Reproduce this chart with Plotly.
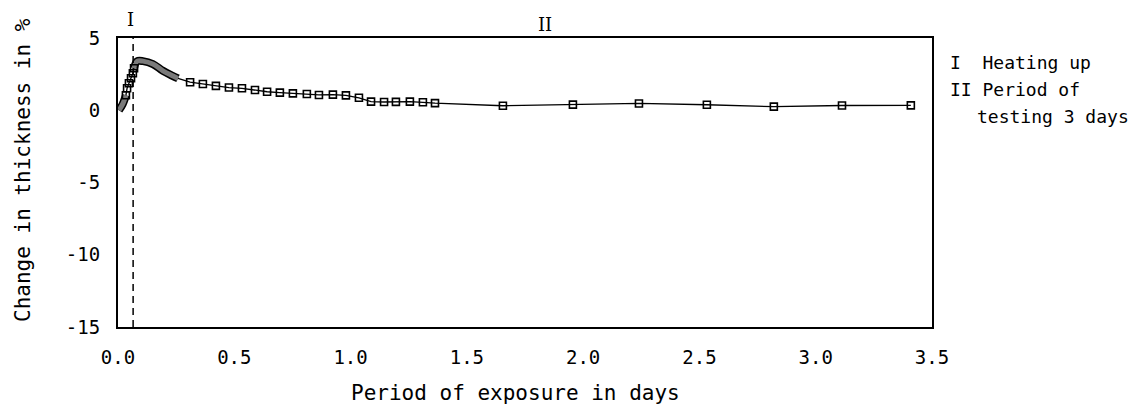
import plotly.graph_objects as go

# ---- data ----
days = [0.004, 0.020, 0.034, 0.039, 0.047, 0.056, 0.064, 0.069, 0.082, 0.107,
        0.150, 0.193, 0.232, 0.258, 0.310, 0.365, 0.421, 0.477, 0.533, 0.589,
        0.641, 0.696, 0.752, 0.812, 0.864, 0.924, 0.980, 1.036, 1.088, 1.144,
        1.195, 1.255, 1.311, 1.363, 1.655, 1.956, 2.240, 2.532, 2.820, 3.113,
        3.409]
change = [0.00, 0.42, 1.04, 1.52, 1.87, 2.21, 2.56, 2.91, 3.39, 3.40,
          3.20, 2.73, 2.40, 2.20, 1.94, 1.82, 1.69, 1.57, 1.52, 1.40,
          1.28, 1.22, 1.17, 1.12, 1.06, 1.08, 1.03, 0.86, 0.60, 0.57,
          0.58, 0.60, 0.55, 0.49, 0.31, 0.39, 0.47, 0.38, 0.25, 0.33,
          0.34]
heating_end = 0.065
x_ticks = [0.0, 0.5, 1.0, 1.5, 2.0, 2.5, 3.0, 3.5]
x_ticklabels = ["0.0", "0.5", "1.0", "1.5", "2.0", "2.5", "3.0", "3.5"]
y_ticks = [5, 0, -5, -10, -15]
y_ticklabels = ["5", "0", "-5", "-10", "-15"]

# ---- layout geometry (page body adds an 8px offset) ----
OFF = 8
W, H = 1145, 409
SL, SR, ST, SB = 118, 932, 38, 327          # wanted frame edges on screen
L, T = SL - OFF, ST - OFF
R, B = W - (SR - OFF), H - (SB - OFF)
PW, PH = W - L - R, H - T - B


def px(xs):
    return (xs - OFF - L) / PW


def py(ys):
    return (H - B - (ys - OFF)) / PH


MONO = "DejaVu Sans Mono"
fig = go.Figure()

# thin connecting line
fig.add_trace(go.Scatter(x=days, y=change, mode="lines",
                         line=dict(color="black", width=1.3),
                         hoverinfo="skip", showlegend=False, cliponaxis=False))

# dense (overlapping) measurement segments drawn as a thick grey band
for a, b in [(0, 3), (7, 14)]:
    fig.add_trace(go.Scatter(x=days[a:b], y=change[a:b], mode="lines",
                             line=dict(color="black", width=8, shape="spline"),
                             hoverinfo="skip", showlegend=False, cliponaxis=False))
    fig.add_trace(go.Scatter(x=days[a:b], y=change[a:b], mode="lines",
                             line=dict(color="#7a7a7a", width=5, shape="spline"),
                             hoverinfo="skip", showlegend=False, cliponaxis=False))

# open square markers
idx = list(range(2, 8)) + list(range(14, len(days)))
fig.add_trace(go.Scatter(x=[days[i] for i in idx], y=[change[i] for i in idx],
                         mode="markers",
                         marker=dict(symbol="square-open", size=7, color="black",
                                     line=dict(width=1.6, color="black")),
                         showlegend=False, cliponaxis=False))

# dashed line marking end of heating up
fig.add_shape(type="line", xref="x", yref="paper", x0=heating_end, x1=heating_end,
              y0=0, y1=1, line=dict(color="black", width=1.5, dash="7px,5px"))

ann = []
ann.append(dict(text="I", x=px(130), y=py(19), xref="paper", yref="paper",
                showarrow=False, font=dict(family="DejaVu Serif", size=18, color="black"),
                xanchor="center", yanchor="middle"))
ann.append(dict(text="II", x=px(545), y=py(25), xref="paper", yref="paper",
                showarrow=False, font=dict(family="DejaVu Serif", size=18, color="black"),
                xanchor="center", yanchor="middle"))
legend_font = dict(family=MONO, size=18, color="black")
for txt, xs, ys in [("I  Heating up", 948, 62), ("II Period of", 948, 89),
                    ("testing 3 days", 975, 117)]:
    ann.append(dict(text=txt, x=px(xs), y=py(ys), xref="paper", yref="paper",
                    showarrow=False, font=legend_font, xanchor="left", yanchor="middle"))
ann.append(dict(text="Period of exposure in days", x=px(515), y=py(393),
                xref="paper", yref="paper", showarrow=False,
                font=dict(family=MONO, size=21, color="black"),
                xanchor="center", yanchor="middle"))
ann.append(dict(text="Change in thickness in %", x=px(23), y=py(170),
                xref="paper", yref="paper", showarrow=False, textangle=-90,
                font=dict(family=MONO, size=21, color="black"),
                xanchor="center", yanchor="middle"))

axis_common = dict(showline=True, mirror=True, linecolor="black", linewidth=2,
                   showgrid=False, zeroline=False, ticks="",
                   tickfont=dict(family=MONO, size=19, color="black"))
fig.update_layout(
    width=W, height=H,
    margin=dict(l=L, r=R, t=T, b=B),
    paper_bgcolor="white", plot_bgcolor="white",
    xaxis=dict(range=[0, 3.5], tickvals=x_ticks, ticktext=x_ticklabels,
               ticklabelstandoff=12, **axis_common),
    yaxis=dict(range=[-15, 5], tickvals=y_ticks, ticktext=y_ticklabels,
               ticklabelstandoff=12, **axis_common),
    annotations=ann,
)

fig.write_html("out.html")
